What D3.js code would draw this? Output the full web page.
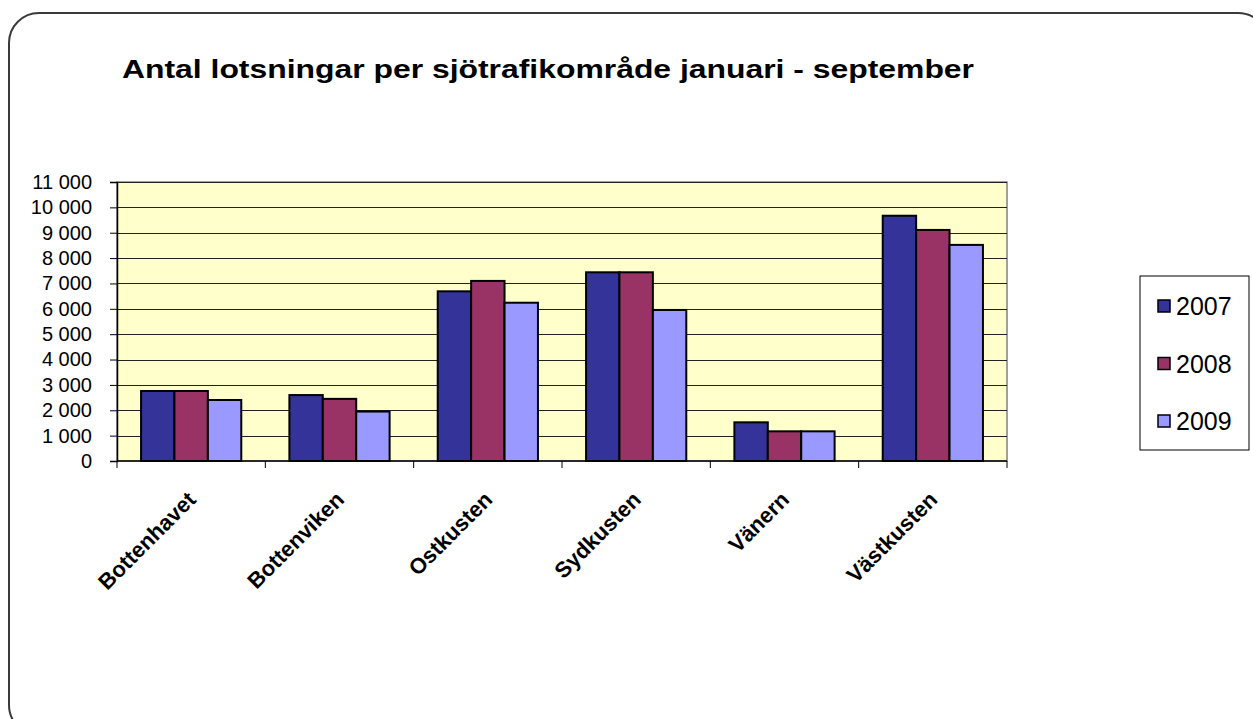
<!DOCTYPE html>
<html>
<head>
<meta charset="utf-8">
<script src="https://cdn.jsdelivr.net/npm/d3@7"></script>
<style>
  html, body { margin: 0; padding: 0; background: #fff; }
  svg { display: block; font-family: "Liberation Sans", Arial, sans-serif; }
</style>
</head>
<body>
<div id="chart"></div>
<script>
const categories = ["Bottenhavet", "Bottenviken", "Ostkusten", "Sydkusten", "Vänern", "Västkusten"];
const years = ["2007", "2008", "2009"];
const values2007 = [2760, 2600, 6690, 7440, 1525, 9670];
const values2008 = [2760, 2450, 7100, 7440, 1170, 9110];
const values2009 = [2405, 1950, 6240, 5955, 1170, 8520];
const yTicks = [0, 1000, 2000, 3000, 4000, 5000, 6000, 7000, 8000, 9000, 10000, 11000];
const colors = ["#333399", "#993366", "#9999FF"];

const width = 1253;
const height = 719;

const plot = { left: 117, right: 1007, top: 182, bottom: 461 };

const svg = d3.select("#chart")
  .append("svg")
  .attr("width", width)
  .attr("height", height);

// outer rounded frame
svg.append("rect")
  .attr("x", 9)
  .attr("y", 13)
  .attr("width", 1259)
  .attr("height", 722)
  .attr("rx", 30)
  .attr("fill", "#fff")
  .attr("stroke", "#3a3a3a")
  .attr("stroke-width", 2);

svg.append("text")
  .attr("x", 122)
  .attr("y", 78)
  .attr("font-size", 25)
  .attr("font-weight", "bold")
  .attr("fill", "#000")
  .attr("textLength", 852)
  .attr("lengthAdjust", "spacingAndGlyphs")
  .text("Antal lotsningar per sjötrafikområde januari - september");

const x0 = d3.scaleBand()
  .domain(categories)
  .range([plot.left, plot.right])
  .padding(0);

const x1 = d3.scaleBand()
  .domain(years)
  .range([0, x0.bandwidth()])
  .paddingInner(0)
  .paddingOuter(0.72);

const y = d3.scaleLinear()
  .domain([0, 11000])
  .range([plot.bottom, plot.top]);

// plot background
svg.append("rect")
  .attr("x", plot.left)
  .attr("y", plot.top)
  .attr("width", plot.right - plot.left)
  .attr("height", plot.bottom - plot.top)
  .attr("fill", "#FFFFCC")
  .attr("stroke", "#808080")
  .attr("stroke-width", 1.5);

// gridlines
svg.append("g")
  .selectAll("line")
  .data(yTicks.filter(d => d > 0))
  .join("line")
  .attr("x1", plot.left)
  .attr("x2", plot.right)
  .attr("y1", d => Math.round(y(d)) + 0.5)
  .attr("y2", d => Math.round(y(d)) + 0.5)
  .attr("stroke", "#222")
  .attr("stroke-width", 1);

const series = [values2007, values2008, values2009];

// bars
categories.forEach((cat, i) => {
  const g = svg.append("g").attr("transform", `translate(${x0(cat)},0)`);
  g.selectAll("rect")
    .data(years.map((yr, j) => ({ yr, value: series[j][i], color: colors[j] })))
    .join("rect")
    .attr("x", d => x1(d.yr))
    .attr("y", d => y(d.value))
    .attr("width", x1.bandwidth())
    .attr("height", d => y(0) - y(d.value))
    .attr("fill", d => d.color)
    .attr("stroke", "#000")
    .attr("stroke-width", 2);
});

// y axis
const yAxis = d3.axisLeft(y)
  .tickValues(yTicks)
  .tickSize(7)
  .tickPadding(18)
  .tickFormat(d => d3.format(",")(d).replace(/,/g, " "));

const yg = svg.append("g")
  .attr("transform", `translate(${plot.left},0)`)
  .call(yAxis);
yg.select(".domain").attr("stroke", "#000").attr("stroke-width", 1.5);
yg.selectAll(".tick line").attr("stroke", "#000");
yg.selectAll(".tick text")
  .attr("font-size", 20)
  .attr("font-family", "Liberation Sans, Arial, sans-serif")
  .attr("fill", "#000");

// x axis with ticks at category boundaries
const boundaries = categories.map(c => x0(c)).concat([plot.right]);
const xg = svg.append("g");
xg.append("line")
  .attr("x1", plot.left)
  .attr("x2", plot.right)
  .attr("y1", plot.bottom)
  .attr("y2", plot.bottom)
  .attr("stroke", "#000")
  .attr("stroke-width", 1.5);
xg.selectAll(".xt")
  .data(boundaries)
  .join("line")
  .attr("class", "xt")
  .attr("x1", d => d)
  .attr("x2", d => d)
  .attr("y1", plot.bottom)
  .attr("y2", plot.bottom + 7)
  .attr("stroke", "#000");

xg.selectAll(".xl")
  .data(categories)
  .join("text")
  .attr("class", "xl")
  .attr("transform", d => `translate(${x0(d) + x0.bandwidth() / 2 + 6},${plot.bottom + 40}) rotate(-45)`)
  .attr("text-anchor", "end")
  .attr("font-size", 22)
  .attr("font-weight", "bold")
  .attr("fill", "#000")
  .text(d => d);

// legend
const legend = svg.append("g");
legend.append("rect")
  .attr("x", 1140)
  .attr("y", 276)
  .attr("width", 109)
  .attr("height", 174)
  .attr("fill", "#fff")
  .attr("stroke", "#000")
  .attr("stroke-width", 1);

const legendY = d3.scalePoint()
  .domain(years)
  .range([306, 421]);

legend.selectAll(".sw")
  .data(years)
  .join("rect")
  .attr("class", "sw")
  .attr("x", 1158)
  .attr("y", d => legendY(d) - 6)
  .attr("width", 12)
  .attr("height", 12)
  .attr("fill", (d, i) => colors[i])
  .attr("stroke", "#000")
  .attr("stroke-width", 1.5);

legend.selectAll(".lt")
  .data(years)
  .join("text")
  .attr("class", "lt")
  .attr("x", 1176)
  .attr("y", d => legendY(d) + 9)
  .attr("font-size", 25)
  .attr("fill", "#000")
  .text(d => d);
</script>
</body>
</html>
